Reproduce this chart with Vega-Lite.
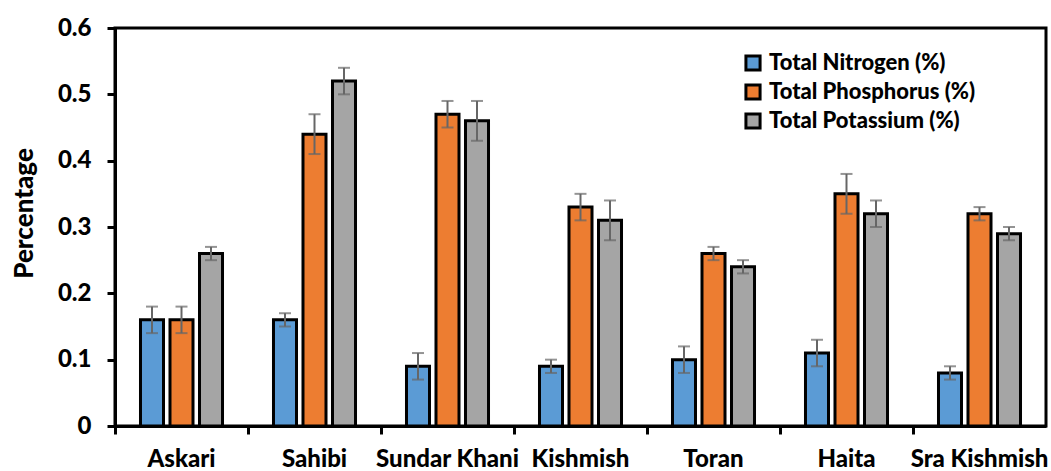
{
  "$schema": "https://vega.github.io/schema/vega-lite/v6.json",
  "width": 931,
  "height": 398,
  "autosize": "none",
  "padding": {"left": 115, "top": 28, "right": 5, "bottom": 45},
  "background": "white",
  "config": {
    "font": "Lato",
    "view": {"stroke": "black", "strokeWidth": 3},
    "axis": {"grid": false, "domainColor": "black", "domainWidth": 3, "tickColor": "black", "tickWidth": 3, "tickSize": 8, "labelFont": "Lato", "labelFontWeight": 900, "labelFontSize": 24, "labelColor": "black", "titleFont": "Lato", "titleFontWeight": 900, "titleFontSize": 26, "titleColor": "black"}
  },
  "data": {
    "values": [
      {"cultivar": "Askari", "nutrient": "Total Nitrogen (%)", "value": 0.16, "lo": 0.14, "hi": 0.18},
      {"cultivar": "Askari", "nutrient": "Total Phosphorus (%)", "value": 0.16, "lo": 0.14, "hi": 0.18},
      {"cultivar": "Askari", "nutrient": "Total Potassium (%)", "value": 0.26, "lo": 0.25, "hi": 0.27},
      {"cultivar": "Sahibi", "nutrient": "Total Nitrogen (%)", "value": 0.16, "lo": 0.15, "hi": 0.17},
      {"cultivar": "Sahibi", "nutrient": "Total Phosphorus (%)", "value": 0.44, "lo": 0.41, "hi": 0.47},
      {"cultivar": "Sahibi", "nutrient": "Total Potassium (%)", "value": 0.52, "lo": 0.50, "hi": 0.54},
      {"cultivar": "Sundar Khani", "nutrient": "Total Nitrogen (%)", "value": 0.09, "lo": 0.07, "hi": 0.11},
      {"cultivar": "Sundar Khani", "nutrient": "Total Phosphorus (%)", "value": 0.47, "lo": 0.45, "hi": 0.49},
      {"cultivar": "Sundar Khani", "nutrient": "Total Potassium (%)", "value": 0.46, "lo": 0.43, "hi": 0.49},
      {"cultivar": "Kishmish", "nutrient": "Total Nitrogen (%)", "value": 0.09, "lo": 0.08, "hi": 0.10},
      {"cultivar": "Kishmish", "nutrient": "Total Phosphorus (%)", "value": 0.33, "lo": 0.31, "hi": 0.35},
      {"cultivar": "Kishmish", "nutrient": "Total Potassium (%)", "value": 0.31, "lo": 0.28, "hi": 0.34},
      {"cultivar": "Toran", "nutrient": "Total Nitrogen (%)", "value": 0.10, "lo": 0.08, "hi": 0.12},
      {"cultivar": "Toran", "nutrient": "Total Phosphorus (%)", "value": 0.26, "lo": 0.25, "hi": 0.27},
      {"cultivar": "Toran", "nutrient": "Total Potassium (%)", "value": 0.24, "lo": 0.23, "hi": 0.25},
      {"cultivar": "Haita", "nutrient": "Total Nitrogen (%)", "value": 0.11, "lo": 0.09, "hi": 0.13},
      {"cultivar": "Haita", "nutrient": "Total Phosphorus (%)", "value": 0.35, "lo": 0.32, "hi": 0.38},
      {"cultivar": "Haita", "nutrient": "Total Potassium (%)", "value": 0.32, "lo": 0.30, "hi": 0.34},
      {"cultivar": "Sra Kishmish", "nutrient": "Total Nitrogen (%)", "value": 0.08, "lo": 0.07, "hi": 0.09},
      {"cultivar": "Sra Kishmish", "nutrient": "Total Phosphorus (%)", "value": 0.32, "lo": 0.31, "hi": 0.33},
      {"cultivar": "Sra Kishmish", "nutrient": "Total Potassium (%)", "value": 0.29, "lo": 0.28, "hi": 0.30}
    ]
  },
  "encoding": {
    "x": {
      "field": "cultivar", "type": "nominal", "sort": null, "title": null,
      "scale": {"paddingInner": 0, "paddingOuter": 0},
      "axis": {"labelAngle": 0, "bandPosition": 0, "labelPadding": 13}
    },
    "xOffset": {
      "field": "nutrient", "type": "nominal",
      "sort": ["Total Nitrogen (%)", "Total Phosphorus (%)", "Total Potassium (%)"],
      "scale": {"paddingInner": 0.22, "paddingOuter": 0.864}
    }
  },
  "layer": [
    {
      "mark": {"type": "bar", "stroke": "black", "strokeWidth": 3, "strokeJoin": "miter"},
      "encoding": {
        "y": {
          "field": "value", "type": "quantitative", "title": "Percentage",
          "scale": {"domain": [0, 0.6], "nice": false},
          "axis": {"values": [0, 0.1, 0.2, 0.3, 0.4, 0.5, 0.6], "format": "~g", "labelPadding": 16, "titlePadding": 20, "titleY": 185}
        },
        "color": {
          "field": "nutrient", "type": "nominal", "title": null,
          "scale": {"domain": ["Total Nitrogen (%)", "Total Phosphorus (%)", "Total Potassium (%)"], "range": ["#5B9BD5", "#ED7D31", "#A5A5A5"]},
          "legend": {
            "orient": "none", "legendX": 627, "legendY": 24,
            "symbolType": "square", "symbolSize": 200, "symbolStrokeColor": "black", "symbolStrokeWidth": 3, "symbolOpacity": 1,
            "labelFont": "Lato", "labelFontWeight": 900, "labelFontSize": 22, "labelColor": "black", "labelLimit": 0,
            "labelOffset": 5, "rowPadding": 1
          }
        }
      }
    },
    {
      "mark": {"type": "rule", "color": "#666666", "strokeWidth": 2},
      "encoding": {
        "y": {"field": "lo", "type": "quantitative"},
        "y2": {"field": "hi"}
      }
    },
    {
      "mark": {"type": "tick", "color": "#666666", "thickness": 2, "size": 12, "orient": "horizontal"},
      "encoding": {"y": {"field": "lo", "type": "quantitative"}}
    },
    {
      "mark": {"type": "tick", "color": "#666666", "thickness": 2, "size": 12, "orient": "horizontal"},
      "encoding": {"y": {"field": "hi", "type": "quantitative"}}
    }
  ]
}
